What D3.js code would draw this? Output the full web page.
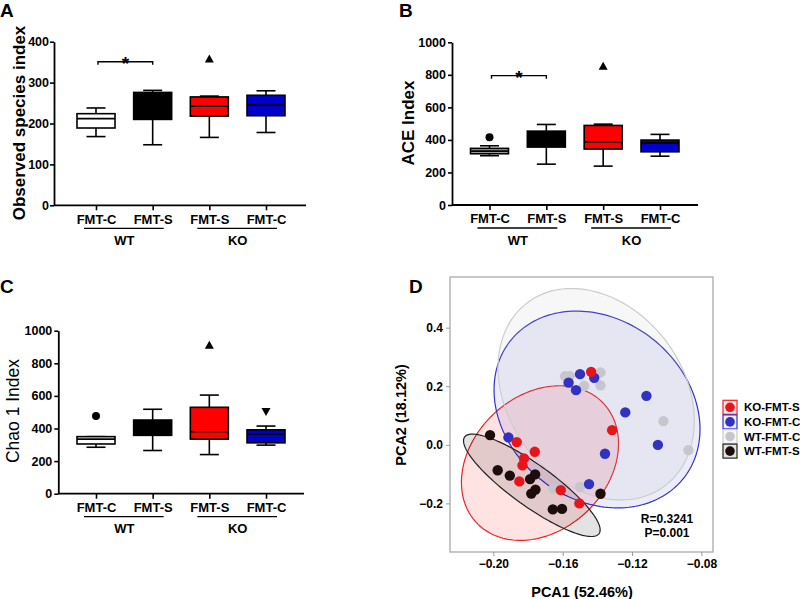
<!DOCTYPE html>
<html><head><meta charset="utf-8">
<script src="https://cdn.jsdelivr.net/npm/d3@7/dist/d3.min.js"></script>
<style>body{margin:0;background:#fff}svg{display:block}text{font-family:"Liberation Sans",Arial,sans-serif}</style>
</head><body>
<svg id="c" width="800" height="599"></svg>
<script>
// ---------------- DATA ----------------
const categories = ["FMT-C","FMT-S","FMT-S","FMT-C"];
const groupNames = ["WT","KO"];
const groupMembers = [[0,1],[2,3]];
// [min, q1, median, q3, max]
const observedStats = [[168,189,212,224,238],[148,210,245,276,281],[166,218,242,265,267],[178,219,245,269,280]];
const observedOutliers = [{g:2,v:358,shape:"up"}];
const observedTicks = [0,100,200,300,400];
const aceStats = [[303,315,331,348,364],[251,356,410,454,495],[239,344,388,489,497],[300,327,382,399,434]];
const aceOutliers = [{g:0,v:417,shape:"circle"},{g:2,v:853,shape:"up"}];
const aceTicks = [0,200,400,600,800,1000];
const chaoStats = [[285,305,335,350,350],[265,358,410,452,518],[240,335,380,530,605],[298,312,365,392,415]];
const chaoOutliers = [{g:0,v:476,shape:"circle"},{g:2,v:910,shape:"up"},{g:3,v:505,shape:"down"}];
const chaoTicks = [0,200,400,600,800,1000];
const observedSig = {a:0,b:1,v:351};
const aceSig = {a:0,b:1,v:795};

// PCA
const pcaGroups = ["KO-FMT-S","KO-FMT-C","WT-FMT-C","WT-FMT-S"];
const pcaXTicks = [-0.20,-0.16,-0.12,-0.08];
const pcaYTicks = [-0.2,0.0,0.2,0.4];
const koFmtS = [[-0.1436,0.2491],[-0.1315,0.0502],[-0.1865,0.0092],[-0.1761,-0.0239],[-0.1823,-0.0464],[-0.1832,-0.0700],[-0.1850,-0.1249],[-0.1611,-0.1546],[-0.1504,-0.2000]];
const koFmtC = [[-0.1500,0.2413],[-0.1566,0.2123],[-0.1418,0.2287],[-0.1523,0.1867],[-0.1117,0.1672],[-0.1239,0.1106],[-0.1051,-0.0003],[-0.1356,-0.0304],[-0.1913,0.0253],[-0.1448,-0.1341]];
const wtFmtC = [[-0.1586,0.2345],[-0.1560,0.2345],[-0.1382,0.2471],[-0.1476,0.2010],[-0.1382,0.2031],[-0.1019,0.0809],[-0.0875,-0.0181],[-0.1654,-0.1495],[-0.1500,-0.1437]];
const wtFmtS = [[-0.2019,0.0331],[-0.1975,-0.0870],[-0.1905,-0.1051],[-0.1788,-0.1171],[-0.1759,-0.1010],[-0.1757,-0.1529],[-0.1781,-0.1666],[-0.1657,-0.2205],[-0.1604,-0.2188],[-0.1382,-0.1672]];
// ellipse: centre x, centre y, spread x, spread y, correlation
const ellipseKoS = {cx:-0.1731,cy:-0.0623,sx:0.0453,sy:0.264,r:0.25};
const ellipseKoC = {cx:-0.1402,cy:0.1206,sx:0.0594,sy:0.336,r:-0.2};
const ellipseWtC = {cx:-0.1407,cy:0.1727,sx:0.0566,sy:0.361,r:-0.25};
const ellipseWtS = {cx:-0.1778,cy:-0.1383,sx:0.0394,sy:0.1748,r:-0.87};
const statText = ["R=0.3241","P=0.001"];

// ---------------- DRAW ----------------
const svg = d3.select("#c");
const FONT = '"Liberation Sans",Arial,sans-serif';
const boxFills = ["#ffffff","#000000","#ff0000","#0000cc"];

function letter(t,x,y){svg.append("text").attr("x",x).attr("y",y).attr("font-size",19).attr("font-weight","bold").text(t);}

function boxPanel(cfg){
  const g = svg.append("g");
  const y = d3.scaleLinear().domain([0,cfg.ticks[cfg.ticks.length-1]]).range([cfg.bottom,cfg.top]);
  const x = d3.scalePoint().domain(d3.range(categories.length)).range([cfg.left+cfg.padL,cfg.right-cfg.padR]);
  // y axis
  const ya = g.append("g").attr("transform",`translate(${cfg.left},0)`)
    .call(d3.axisLeft(y).tickValues(cfg.ticks).tickFormat(d3.format("d")).tickSize(4).tickPadding(cfg.tpad).tickSizeOuter(0));
  ya.select(".domain").attr("stroke-width",1.8);
  ya.selectAll(".tick line").attr("stroke-width",1.6);
  ya.selectAll("text").attr("font-size",12.5).attr("font-weight","bold").attr("font-family",FONT).attr("fill","#000");
  // x axis
  const xa = g.append("g").attr("transform",`translate(0,${cfg.bottom})`)
    .call(d3.axisBottom(x).tickFormat(i=>categories[i]).tickSize(5).tickPadding(4).tickSizeOuter(0));
  xa.select(".domain").attr("d",`M${cfg.left},0H${cfg.right}`).attr("stroke-width",1.8);
  xa.selectAll(".tick line").attr("stroke-width",1.6);
  xa.selectAll("text").attr("font-size",13).attr("font-weight","bold").attr("font-family",FONT).attr("fill","#000").attr("dy","0.72em");
  // groups
  groupMembers.forEach((m,gi)=>{
    const x0 = x(m[0])-12, x1 = x(m[m.length-1])+11;
    g.append("line").attr("x1",x0).attr("x2",x1).attr("y1",cfg.bottom+23).attr("y2",cfg.bottom+23).attr("stroke","#000").attr("stroke-width",1.3);
    g.append("text").attr("x",(x(m[0])+x(m[m.length-1]))/2).attr("y",cfg.bottom+39.5).attr("text-anchor","middle")
      .attr("font-size",13).attr("font-weight","bold").text(groupNames[gi]);
  });
  // boxes
  const bw = 38, cw = 19;
  cfg.stats.forEach((s,i)=>{
    const cx = x(i);
    const fill = (cfg.fills||boxFills)[i];
    g.append("line").attr("x1",cx).attr("x2",cx).attr("y1",y(s[0])).attr("y2",y(s[4])).attr("stroke","#000").attr("stroke-width",1.6);
    [s[0],s[4]].forEach(v=>g.append("line").attr("x1",cx-cw/2).attr("x2",cx+cw/2).attr("y1",y(v)).attr("y2",y(v)).attr("stroke","#000").attr("stroke-width",1.6));
    g.append("rect").attr("x",cx-bw/2).attr("width",bw).attr("y",y(s[3])).attr("height",y(s[1])-y(s[3]))
      .attr("fill",fill).attr("stroke","#000").attr("stroke-width",1.6);
    g.append("line").attr("x1",cx-bw/2).attr("x2",cx+bw/2).attr("y1",y(s[2])).attr("y2",y(s[2])).attr("stroke","#000").attr("stroke-width",1.6);
  });
  // outliers
  cfg.outliers.forEach(o=>{
    const cx = x(o.g), cy = y(o.v);
    if(o.shape==="circle") g.append("circle").attr("cx",cx).attr("cy",cy).attr("r",4).attr("fill","#000");
    else {
      const s = o.shape==="up"?1:-1;
      g.append("path").attr("d",`M${cx},${cy-4.5*s}L${cx+4.5},${cy+3.5*s}L${cx-4.5},${cy+3.5*s}Z`).attr("fill","#000");
    }
  });
  // significance
  if(cfg.sig){
    const by = y(cfg.sig.v), xa0 = x(cfg.sig.a)+2, xa1 = x(cfg.sig.b);
    g.append("path").attr("d",`M${xa0},${by+3}V${by}H${xa1}V${by+3}`).attr("fill","none").attr("stroke","#000").attr("stroke-width",1.4);
    g.append("text").attr("x",(xa0+xa1)/2).attr("y",by+8).attr("text-anchor","middle").attr("font-size",19).attr("font-weight","bold").text("*");
  }
  // y label
  g.append("text").attr("transform",`translate(${cfg.labX},${cfg.labY}) rotate(-90)`).attr("text-anchor","middle")
    .attr("font-size",cfg.labSize).attr("font-weight",cfg.labWeight).text(cfg.label);
}

letter("A",0,17); letter("B",399,17); letter("C",0,293); letter("D",409,293);

boxPanel({stats:observedStats,outliers:observedOutliers,ticks:observedTicks,sig:observedSig,tpad:1,
  left:54,right:306,top:41.7,bottom:205.3,padL:42,padR:40,label:"Observed species index",labX:25,labY:123,labSize:17,labWeight:"bold"});
boxPanel({stats:aceStats,outliers:aceOutliers,ticks:aceTicks,sig:aceSig,tpad:2,fills:["#a0a0a0","#000000","#ff0000","#0000cc"],
  left:452,right:698,top:42.3,bottom:205,padL:37.5,padR:38,label:"ACE Index",labX:414,labY:123,labSize:17,labWeight:"bold"});
boxPanel({stats:chaoStats,outliers:chaoOutliers,ticks:chaoTicks,tpad:2,
  left:58.3,right:304,top:330.7,bottom:493.7,padL:37.7,padR:38,label:"Chao 1 Index",labX:18.5,labY:411,labSize:17.5,labWeight:"normal"});

// ---------------- PCA ----------------
const P = {left:450,right:713,top:277,bottom:552};
const px = d3.scaleLinear().domain([-0.225,-0.0733]).range([P.left,P.right]);
const py = d3.scaleLinear().domain([-0.366,0.573]).range([P.bottom,P.top]);
const pg = svg.append("g");
pg.append("rect").attr("x",P.left).attr("y",P.top).attr("width",P.right-P.left).attr("height",P.bottom-P.top)
  .attr("fill","#fff").attr("stroke","#aaa").attr("stroke-width",1.3);
const colors = ["#e8141c","#3232c2","#c6c6cc","#1c0c0c"];
const strokeCols = ["#ee2222","#3333cc","#cccccc","#222222"];
const fillCols = ["rgba(255,0,0,0.11)","rgba(40,40,200,0.09)","rgba(190,190,190,0.12)","rgba(0,0,0,0.11)"];
const ellipses = [ellipseKoS,ellipseKoC,ellipseWtC,ellipseWtS];
const line = d3.line().x(d=>px(d[0])).y(d=>py(d[1])).curve(d3.curveLinearClosed);
svg.append("clipPath").attr("id","pclip").append("rect").attr("x",P.left).attr("y",P.top).attr("width",P.right-P.left).attr("height",P.bottom-P.top);
const eg = pg.append("g").attr("clip-path","url(#pclip)");
ellipses.forEach((e,i)=>{
  const pts = d3.range(0,360,2).map(a=>{const t=a*Math.PI/180;return [e.cx+e.sx*Math.cos(t), e.cy+e.sy*(e.r*Math.cos(t)+Math.sqrt(1-e.r*e.r)*Math.sin(t))];});
  eg.append("path").attr("d",line(pts)).attr("fill",fillCols[i]).attr("stroke",strokeCols[i]).attr("stroke-width",1.2);
});
const allPts = [wtFmtC,koFmtC,wtFmtS,koFmtS];
const ptColor = [colors[2],colors[1],colors[3],colors[0]];
allPts.forEach((arr,i)=>{
  eg.selectAll(null).data(arr).enter().append("circle").attr("cx",d=>px(d[0])).attr("cy",d=>py(d[1])).attr("r",5.2).attr("fill",ptColor[i]);
});
// axes
const xa = pg.append("g").attr("transform",`translate(0,${P.bottom})`).call(d3.axisBottom(px).tickValues(pcaXTicks).tickFormat(d3.format(".2f")).tickSize(4).tickPadding(3));
xa.select(".domain").remove();
xa.selectAll(".tick line").attr("stroke","#999");
xa.selectAll("text").attr("font-size",12).attr("font-weight","bold").attr("font-family",FONT).attr("fill","#000");
const ya = pg.append("g").attr("transform",`translate(${P.left},0)`).call(d3.axisLeft(py).tickValues(pcaYTicks).tickFormat(d3.format(".1f")).tickSize(4).tickPadding(3));
ya.select(".domain").remove();
ya.selectAll(".tick line").attr("stroke","#999");
ya.selectAll("text").attr("font-size",12).attr("font-weight","bold").attr("font-family",FONT).attr("fill","#000");
pg.append("text").attr("x",582).attr("y",597).attr("text-anchor","middle").attr("font-size",14.5).attr("font-weight","bold").text("PCA1 (52.46%)");
pg.append("text").attr("transform","translate(406,415) rotate(-90)").attr("text-anchor","middle").attr("font-size",14.5).attr("font-weight","bold").text("PCA2 (18.12%)");
statText.forEach((t,i)=>pg.append("text").attr("x",667).attr("y",523+i*14).attr("text-anchor","middle").attr("font-size",12).attr("font-weight","bold").text(t));
// legend
pcaGroups.forEach((name,i)=>{
  const cy = 407.3+i*14.6;
  pg.append("rect").attr("x",723).attr("y",cy-7).attr("width",14).attr("height",14).attr("fill",fillCols[i]).attr("stroke",strokeCols[i]).attr("stroke-width",1.2);
  pg.append("circle").attr("cx",730).attr("cy",cy).attr("r",4.8).attr("fill",colors[i]);
  pg.append("text").attr("x",744).attr("y",cy+4).attr("font-size",11.5).attr("font-weight","bold").text(name);
});
</script>
</body></html>
